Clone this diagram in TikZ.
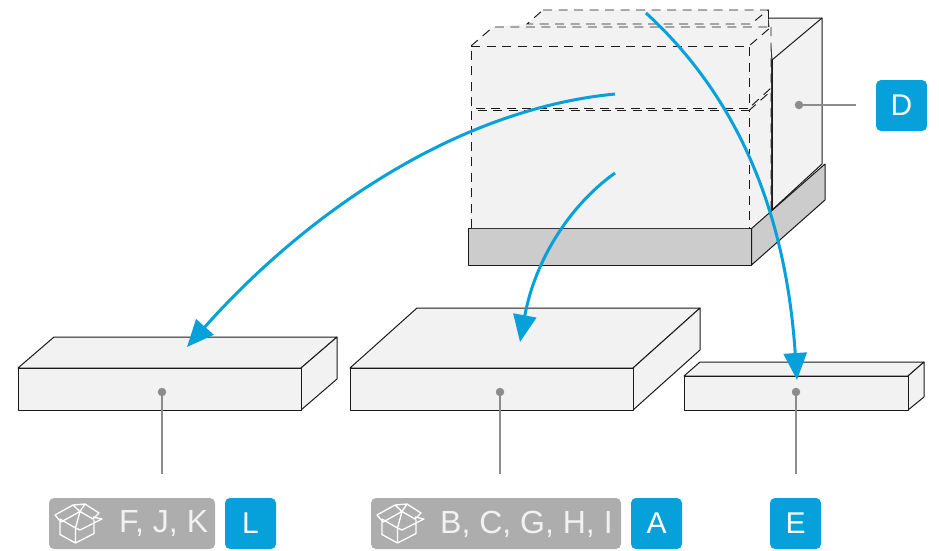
\documentclass[tikz,border=0pt]{standalone}
\usepackage{fontspec}
\setmainfont{Liberation Sans}
\usetikzlibrary{arrows.meta}
\definecolor{bluemark}{HTML}{06A0DA}
\definecolor{greymark}{HTML}{8C8C8C}
\definecolor{pillgrey}{HTML}{ADADAD}
\definecolor{boxgrey}{HTML}{F2F2F2}
\definecolor{palletgrey}{HTML}{CCCCCC}
\definecolor{edgeblack}{HTML}{1A1A1A}
\begin{document}
\begin{tikzpicture}[
            x=1pt, y=-1pt,
            solidbox/.style={draw=edgeblack, line width=1pt, fill=boxgrey, line join=round},
            pallet/.style={draw=edgeblack, line width=1pt, fill=palletgrey, line join=round},
            dashedge/.style={draw=edgeblack, line width=0.95pt, dash pattern=on 9pt off 6.5pt},
            badge/.style={rectangle, fill=bluemark, rounded corners=5pt, minimum size=51pt, inner sep=0pt, text=white, font=\fontsize{30}{30}\selectfont},
            pill/.style={rectangle, fill=pillgrey, rounded corners=5pt, minimum height=51pt, inner sep=0pt},
            pilltext/.style={anchor=west, inner sep=0pt, text=boxgrey, font=\fontsize{32}{32}\selectfont},
            dot/.style={circle, fill=greymark, minimum size=8.5pt, inner sep=0pt},
            leader/.style={draw=greymark, line width=1.8pt},
            arrow/.style={draw=bluemark, line width=3pt, -{Triangle[length=27pt,width=23pt]}},
            boxicon/.pic={
                \draw [white, line width=1.3pt, line join=round]
                    (11,21) -- (11,36.5) -- (26.5,45) -- (45,35.5) -- (45,21.5)
                    (26.5,45) -- (26.5,30)
                    (6,17) -- (24,7) -- (31,13.5) -- (12,24) -- cycle
                    (36,6) -- (50,15) -- (44,21) -- (31,13.5) -- cycle
                    (11,21) -- (26.5,30) -- (31,32) -- (53,21) -- (44,19)
                    (31,13.5) -- (26.5,30)
                    (24,7) -- (36,6);
            }
        ]
\useasboundingbox (0,0) rectangle (939,550);

% Back load on the pallet
            \draw [solidbox] (768,18) -- (822,18) -- (822,164) -- (772,210) -- (772,60) -- cycle;
            \draw [edgeblack, line width=1pt] (772,60) -- (822,18);
            \draw [edgeblack, line width=1.4pt] (772,60) -- (772,210);

% Pallet
            \draw [pallet] (468.5,228.5) -- (751.5,228.5) -- (751.5,265) -- (468.5,265) -- cycle;
            \draw [pallet] (751.5,228.5) -- (825,164) -- (825,200) -- (751.5,265) -- cycle;

% Dashed stack of removed layers
            \fill [boxgrey] (471,228) -- (471,46) -- (493,27) -- (527,24) -- (543,10) -- (768,10)
                -- (768,27) -- (771,27) -- (771,210) -- (749,228) -- cycle;
            \draw [dashedge] (543,10) -- (768,10) -- (751,24) -- (527,24) -- cycle;
            \draw [dashedge] (768,10) -- (768,27);
            \draw [dashedge] (471,46) -- (493,27) -- (771,27) -- (749,46);
            \draw [dashedge] (471,46) -- (749,46) -- (749,108) -- (471,108) -- cycle;
            \draw [dashedge] (771,27) -- (771,88) -- (749,108);
            \draw [dashedge] (471,228) -- (471,110.5) -- (749,110.5) -- (749,228);
            \draw [dashedge] (749,110.5) -- (771,91) -- (771,210);

% Three layers on the floor
            \draw [solidbox] (18,368) -- (54,337) -- (337,337) -- (301,368) -- cycle;
            \draw [solidbox] (301,368) -- (337,337) -- (337,379) -- (301,410) -- cycle;
            \draw [solidbox] (18,368) rectangle (301,410);

            \draw [solidbox] (350,368) -- (417,308) -- (700,308) -- (633,368) -- cycle;
            \draw [solidbox] (633,368) -- (700,308) -- (700,350) -- (633,410) -- cycle;
            \draw [solidbox] (350,368) rectangle (633,410);

            \draw [solidbox] (684,376) -- (700,362) -- (924,362) -- (908,376) -- cycle;
            \draw [solidbox] (908,376) -- (924,362) -- (924,397) -- (908,410) -- cycle;
            \draw [solidbox] (684,376) rectangle (908,410);

% Labels
            \node (pillL) [pill, minimum width=166pt] at (132,523.5) {};
            \node (pillA) [pill, minimum width=250pt] at (496,523.5) {};
            \node (textL) [pilltext] at (119,524) {F, J, K};
            \node (textA) [pilltext] at (440,524) {B, C, G, H, I};
            \pic at (49,498) {boxicon};
            \pic at (371,498) {boxicon};

            \node (badgeL) [badge] at (250.5,523.5) {L};
            \node (badgeA) [badge] at (656.5,523.5) {A};
            \node (badgeE) [badge] at (795.5,523.5) {E};
            \node (badgeD) [badge] at (901.5,105.5) {D};

% Leader lines
            \node (dotL) [dot] at (162,392) {};
            \node (dotA) [dot] at (500,392) {};
            \node (dotE) [dot] at (796,392) {};
            \node (dotD) [dot] at (799,105) {};
            \coordinate (endL) at (162,474);
            \coordinate (endA) at (500,474);
            \coordinate (endE) at (796,474);
            \coordinate (endD) at (856,105);
            \draw [leader] (dotL.center) -- (endL);
            \draw [leader] (dotA.center) -- (endA);
            \draw [leader] (dotE.center) -- (endE);
            \draw [leader] (dotD.center) -- (endD);

% Blue arrows
            \coordinate (startL) at (615,94);
            \coordinate (tipL) at (187,347);
            \coordinate (startA) at (615,173);
            \coordinate (tipA) at (520,342);
            \coordinate (startE) at (646,13);
            \coordinate (tipE) at (797,380);
            \draw [arrow] (startL) .. controls (450,110) and (300,220) .. (tipL);
            \draw [arrow] (startA) .. controls (570,205) and (535,260) .. (tipA);
            \draw [arrow] (startE) .. controls (730,90) and (785,200) .. (tipE);

        \end{tikzpicture}
\end{document}
